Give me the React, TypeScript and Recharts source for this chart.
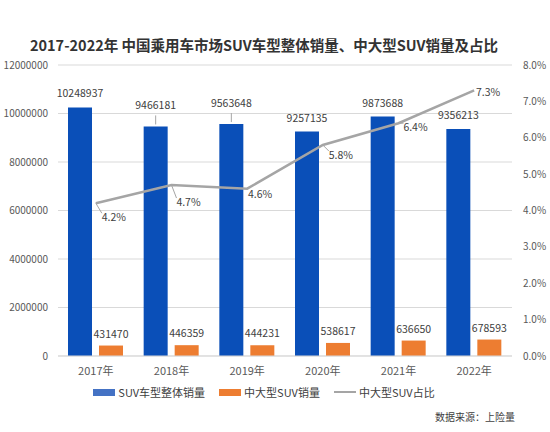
import {
  Bar,
  CartesianGrid,
  ComposedChart,
  LabelList,
  Line,
  XAxis,
  YAxis,
} from "recharts";

const years = ["2017年", "2018年", "2019年", "2020年", "2021年", "2022年"];
const totalSuv = [10248937, 9466181, 9563648, 9257135, 9873688, 9356213];
const largeSuv = [431470, 446359, 444231, 538617, 636650, 678593];
const largeShare = [0.042, 0.047, 0.046, 0.058, 0.064, 0.073];
const leftTicks = [0, 2000000, 4000000, 6000000, 8000000, 10000000, 12000000];
const rightTicks = [0, 0.01, 0.02, 0.03, 0.04, 0.05, 0.06, 0.07, 0.08];

const data = years.map((year, i) => ({
  year,
  total: totalSuv[i],
  large: largeSuv[i],
  share: largeShare[i],
}));

const FONT = "'Noto Sans CJK SC', 'Noto Sans', sans-serif";
const BLUE = "#0a4fb8";
const ORANGE = "#ed7d31";
const GRAY = "#a5a5a5";
const TEXT = "#404040";

// label placement tweaks, copied by eye
const totalLift = [10, 17, 17, 10, 10, 10];
const shareOffset = [
  { dx: 18, dy: 15, lead: true },
  { dx: 17, dy: 18, lead: true },
  { dx: 13, dy: 6, lead: false },
  { dx: 18, dy: 11, lead: true },
  { dx: 17, dy: 5, lead: true },
  { dx: 14, dy: 3, lead: false },
];

const TotalLabel = (props: any) => {
  const { x, y, width, value, index } = props;
  const cx = x + width / 2;
  const lift = totalLift[index];
  return (
    <g>
      {lift > 12 && (
        <line x1={cx} y1={y - 2} x2={cx} y2={y - lift + 6} stroke={GRAY} strokeWidth={1} />
      )}
      <text x={cx} y={y - lift} textAnchor="middle" fontSize={10.5} fill={TEXT} fontFamily={FONT}>
        {value}
      </text>
    </g>
  );
};

const ShareLabel = (props: any) => {
  const { x, y, value, index } = props;
  const o = shareOffset[index];
  const lx = x + o.dx;
  const ly = y + o.dy;
  return (
    <g>
      {o.lead && (
        <polyline
          points={`${x},${y} ${lx - 12},${ly - 5}`}
          fill="none"
          stroke={GRAY}
          strokeWidth={1}
        />
      )}
      <text
        x={lx}
        y={ly}
        textAnchor="middle"
        dominantBaseline="middle"
        fontSize={10.5}
        fill={TEXT}
        fontFamily={FONT}
      >
        {(value * 100).toFixed(1) + "%"}
      </text>
    </g>
  );
};

const legendItems = [
  { name: "SUV车型整体销量", color: "#4472c4", type: "bar" },
  { name: "中大型SUV销量", color: ORANGE, type: "bar" },
  { name: "中大型SUV占比", color: GRAY, type: "line" },
];

export default function App() {
  return (
    <div
      style={{
        position: "absolute",
        left: 0,
        top: 0,
        width: 550,
        height: 432,
        background: "#fff",
        fontFamily: FONT,
      }}
    >
      <div
        style={{
          position: "absolute",
          top: 34,
          left: 0,
          width: 528,
          textAlign: "center",
          fontSize: 14.5,
          fontWeight: "bold",
          color: "#333",
        }}
      >
        2017-2022年 中国乘用车市场SUV车型整体销量、中大型SUV销量及占比
      </div>
      <ComposedChart
        width={550}
        height={432}
        data={data}
        margin={{ top: 65, right: 0, bottom: 46, left: 0 }}
        barSize={24}
        barGap={7}
      >
        <CartesianGrid yAxisId="left" vertical={false} stroke="#d9d9d9" />
        <XAxis
          dataKey="year"
          axisLine={{ stroke: "#d9d9d9" }}
          tickLine={false}
          tick={{ fontSize: 11, fill: "#595959", fontFamily: FONT }}
          tickMargin={5}
        />
        <YAxis
          yAxisId="left"
          width={58}
          domain={[0, 12000000]}
          ticks={leftTicks}
          axisLine={false}
          tickLine={false}
          tickMargin={4}
          tick={{ fontSize: 10, fill: "#595959", fontFamily: FONT }}
        />
        <YAxis
          yAxisId="right"
          orientation="right"
          width={38}
          domain={[0, 0.08]}
          ticks={rightTicks}
          axisLine={false}
          tickLine={false}
          tickMargin={5}
          tickFormatter={(v: number) => (v * 100).toFixed(1) + "%"}
          tick={{ fontSize: 10, fill: "#595959", fontFamily: FONT }}
        />
        <Bar yAxisId="left" dataKey="total" fill={BLUE} isAnimationActive={false}>
          <LabelList dataKey="total" content={<TotalLabel />} />
        </Bar>
        <Bar yAxisId="left" dataKey="large" fill={ORANGE} isAnimationActive={false}>
          <LabelList
            dataKey="large"
            position="top"
            offset={8}
            style={{ fontSize: 10.5, fill: TEXT, fontFamily: FONT }}
          />
        </Bar>
        <Line
          yAxisId="right"
          dataKey="share"
          stroke={GRAY}
          strokeWidth={2.5}
          dot={false}
          isAnimationActive={false}
        >
          <LabelList dataKey="share" content={<ShareLabel />} />
        </Line>
      </ComposedChart>
      <div
        style={{
          position: "absolute",
          top: 384,
          left: 0,
          width: 528,
          display: "flex",
          justifyContent: "center",
          gap: 14,
          fontSize: 11,
          color: "#404040",
        }}
      >
        {legendItems.map((it) => (
          <div key={it.name} style={{ display: "flex", alignItems: "center" }}>
            <span
              style={{
                display: "inline-block",
                width: 22,
                height: it.type === "bar" ? 7 : 2,
                background: it.color,
                marginRight: 3,
              }}
            />
            {it.name}
          </div>
        ))}
      </div>
      <div
        style={{
          position: "absolute",
          top: 409,
          right: 35,
          fontSize: 10,
          color: "#404040",
        }}
      >
        数据来源：上险量
      </div>
    </div>
  );
}
